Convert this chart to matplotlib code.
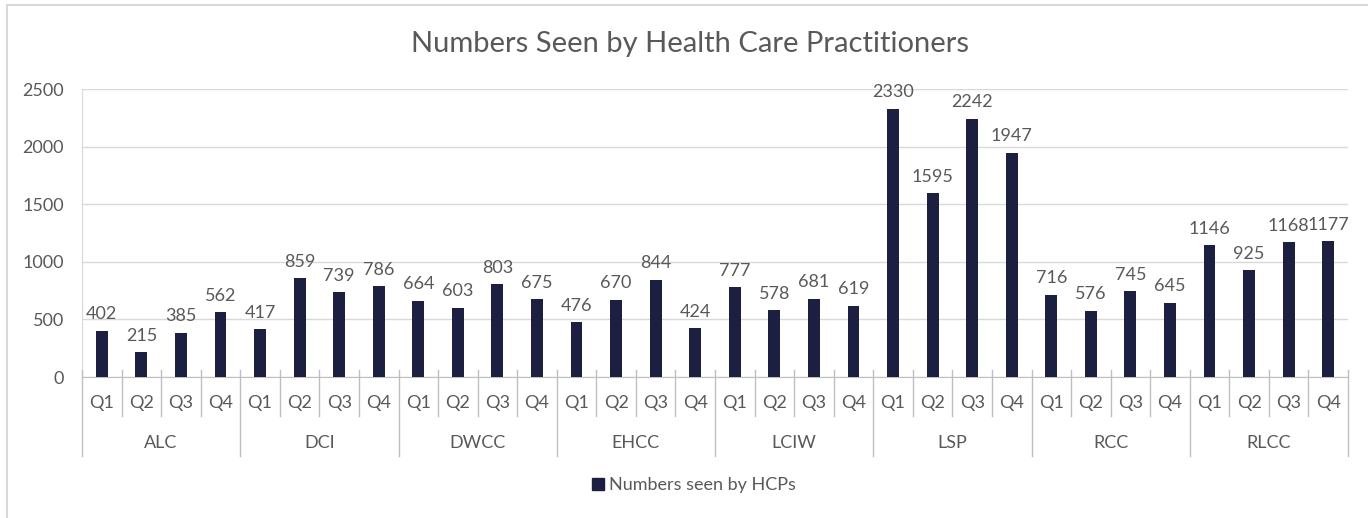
import matplotlib
matplotlib.use("Agg")
import matplotlib.pyplot as plt
from matplotlib.lines import Line2D
from matplotlib.patches import Patch
import numpy as np

plt.rcParams['font.family'] = ['Lato', 'DejaVu Sans']

# Data
sites = ["ALC", "DCI", "DWCC", "EHCC", "LCIW", "LSP", "RCC", "RLCC"]
quarters = ["Q1", "Q2", "Q3", "Q4"]
seen = [
    402, 215, 385, 562,
    417, 859, 739, 786,
    664, 603, 803, 675,
    476, 670, 844, 424,
    777, 578, 681, 619,
    2330, 1595, 2242, 1947,
    716, 576, 745, 645,
    1146, 925, 1168, 1177,
]

W, H = 1368, 518
bar_color = "#1d1f41"
text_color = "#595959"
line_color = "#d9d9d9"

fig = plt.figure(figsize=(W / 100, H / 100), dpi=100)
ax = fig.add_axes([82 / W, 1 - 377 / H, (1348 - 82) / W, (377 - 89) / H])

x = np.arange(len(seen))
bars = ax.bar(x, seen, width=0.3, color=bar_color, zorder=3)

for xi, v in zip(x, seen):
    ax.annotate(str(v), (xi, v), xytext=(0, 6), textcoords="offset points",
                ha="center", va="bottom", fontsize=13, color=text_color)

ax.set_xlim(-0.5, len(seen) - 0.5)
ax.set_ylim(0, 2500)
ax.set_yticks(np.arange(0, 2501, 500))
ax.tick_params(axis="y", length=0, labelsize=13, labelcolor=text_color, pad=13)
ax.grid(axis="y", color=line_color, linewidth=1, zorder=0)
ax.set_xticks([])
for s in ["top", "right"]:
    ax.spines[s].set_visible(False)
ax.spines["left"].set_color(line_color)
ax.spines["bottom"].set_color("#bfbfbf")

# multi-level category axis
ph = 377 - 89
trans = ax.get_xaxis_transform()
n_q = len(quarters)
for i in range(len(seen) + 1):
    xs = i - 0.5
    bottom = -(456 - 377) / ph if i % n_q == 0 else -(416 - 377) / ph
    ax.plot([xs, xs], [7 / ph, bottom], color="#bfbfbf", linewidth=1,
            transform=trans, clip_on=False, zorder=4)
for i in range(len(seen)):
    ax.text(i, -(403 - 377) / ph, quarters[i % n_q], transform=trans,
            ha="center", va="center", fontsize=13, color=text_color)
for g, name in enumerate(sites):
    ax.text(g * n_q + (n_q - 1) / 2, -(443 - 377) / ph, name, transform=trans,
            ha="center", va="center", fontsize=13, color=text_color)

fig.text(690 / W, 1 - 44 / H, "Numbers Seen by Health Care Practitioners",
         ha="center", va="center", fontsize=21, color=text_color)

fig.legend(handles=[Patch(color=bar_color, label="Numbers seen by HCPs")],
           loc="center", bbox_to_anchor=(694 / W, 1 - 485 / H), frameon=False,
           fontsize=13, labelcolor=text_color, handlelength=0.65, handleheight=0.65,
           handletextpad=0.25)

# outer chart border (left and top visible)
fig.add_artist(Line2D([7 / W, 7 / W], [0, 1 - 5 / H], color=line_color, linewidth=1.5,
                      transform=fig.transFigure))
fig.add_artist(Line2D([7 / W, 1], [1 - 5 / H, 1 - 5 / H], color=line_color, linewidth=1.5,
                      transform=fig.transFigure))

fig.savefig("out.png", dpi=100)
